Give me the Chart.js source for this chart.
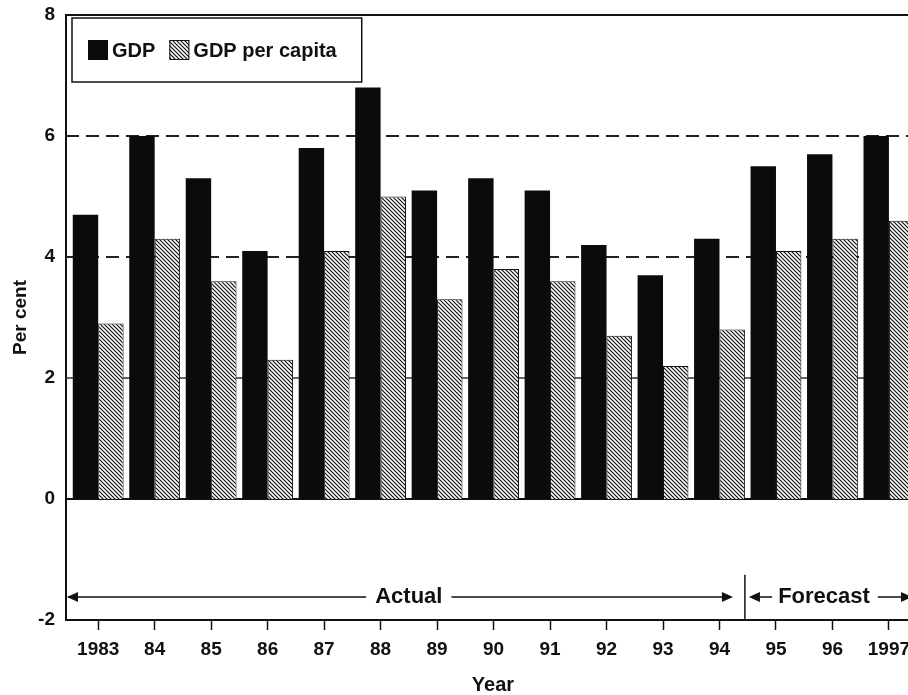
<!DOCTYPE html>
<html>
<head>
<meta charset="utf-8">
<script src="https://cdn.jsdelivr.net/npm/chart.js@4/dist/chart.umd.min.js"></script>
<style>
html,body{margin:0;padding:0;overflow:hidden;background:#fff;}
#wrap{width:940px;height:695px;position:relative;}
</style>
</head>
<body>
<div id="wrap"><canvas id="c"></canvas></div>
<script>
// ---- data ----
const years = ['1983','84','85','86','87','88','89','90','91','92','93','94','95','96','1997'];
const gdp = [4.7, 6.0, 5.3, 4.1, 5.8, 6.8, 5.1, 5.3, 5.1, 4.2, 3.7, 4.3, 5.5, 5.7, 6.0];
const gdpPerCapita = [2.9, 4.3, 3.6, 2.3, 4.1, 5.0, 3.3, 3.8, 3.6, 2.7, 2.2, 2.8, 4.1, 4.3, 4.6];
const seriesNames = ['GDP', 'GDP per capita'];
const yTicks = [-2, 0, 2, 4, 6, 8];
const periodLabels = ['Actual', 'Forecast'];
const lastActualIndex = 11;

// ---- styles ----
const FONT = "'Liberation Sans', Arial, Helvetica, sans-serif";
const INK = '#111';

function makeHatch() {
  const s = 4;
  const c = document.createElement('canvas');
  c.width = s; c.height = s;
  const g = c.getContext('2d');
  g.fillStyle = '#fff'; g.fillRect(0, 0, s, s);
  g.strokeStyle = '#111'; g.lineWidth = 1.2;
  for (const k of [-s, 0, s]) {
    g.beginPath(); g.moveTo(-1, -1 + k); g.lineTo(s + 1, s + 1 + k); g.stroke();
  }
  return g.createPattern(c, 'repeat');
}
const hatch = makeHatch();

const gridStyle = [
  {v: 8, dash: [], w: 2, c: INK},
  {v: 6, dash: [13, 7], w: 2, c: '#222'},
  {v: 4, dash: [13, 7], w: 2, c: '#222'},
  {v: 2, dash: [], w: 1.5, c: '#333'},
  {v: 0, dash: [], w: 2, c: INK}
];

const gridPlugin = {
  id: 'gridPlugin',
  beforeDatasetsDraw(chart) {
    const {ctx, chartArea: a, scales: {y}} = chart;
    ctx.save();
    for (const g of gridStyle) {
      const p = y.getPixelForValue(g.v);
      ctx.beginPath();
      ctx.setLineDash(g.dash);
      ctx.lineWidth = g.w;
      ctx.strokeStyle = g.c;
      ctx.moveTo(a.left, p); ctx.lineTo(a.right, p);
      ctx.stroke();
    }
    ctx.restore();
  }
};

function arrowHead(ctx, x, y, dir) {
  ctx.beginPath();
  ctx.moveTo(x, y);
  ctx.lineTo(x - dir * 11, y - 5);
  ctx.lineTo(x - dir * 11, y + 5);
  ctx.closePath();
  ctx.fill();
}

const periodPlugin = {
  id: 'periodPlugin',
  afterDatasetsDraw(chart) {
    const {ctx, chartArea: a, scales: {x, y}} = chart;
    ctx.save();
    ctx.strokeStyle = INK; ctx.fillStyle = INK; ctx.lineWidth = 1.5;
    const ay = y.getPixelForValue(-1.62);
    const sepX = x.getPixelForValue(lastActualIndex + 0.45);
    ctx.beginPath();
    ctx.moveTo(sepX, y.getPixelForValue(-1.25));
    ctx.lineTo(sepX, a.bottom);
    ctx.stroke();
    ctx.font = 'bold 22px ' + FONT;
    ctx.textAlign = 'center'; ctx.textBaseline = 'middle';
    const ax = x.getPixelForValue(lastActualIndex / 2);
    const aw = ctx.measureText(periodLabels[0]).width;
    ctx.fillText(periodLabels[0], ax, ay);
    ctx.beginPath();
    ctx.moveTo(a.left + 2, ay); ctx.lineTo(ax - aw / 2 - 9, ay);
    ctx.moveTo(ax + aw / 2 + 9, ay); ctx.lineTo(sepX - 14, ay);
    ctx.stroke();
    arrowHead(ctx, a.left + 1, ay, -1);
    arrowHead(ctx, sepX - 12, ay, 1);
    const fx = x.getPixelForValue(12.85);
    const fw = ctx.measureText(periodLabels[1]).width;
    ctx.fillText(periodLabels[1], fx, ay);
    ctx.beginPath();
    ctx.moveTo(sepX + 6, ay); ctx.lineTo(fx - fw / 2 - 6, ay);
    ctx.moveTo(fx + fw / 2 + 8, ay); ctx.lineTo(910, ay);
    ctx.stroke();
    arrowHead(ctx, sepX + 4, ay, -1);
    arrowHead(ctx, 912, ay, 1);
    ctx.restore();
  }
};

const legendPlugin = {
  id: 'legendPlugin',
  afterDraw(chart) {
    const {ctx, chartArea: a} = chart;
    ctx.save();
    const left = a.left + 6, top = a.top + 3;
    ctx.font = 'bold 20px ' + FONT;
    ctx.textBaseline = 'middle'; ctx.textAlign = 'left';
    const sq = 20, cy = top + 32;
    let cx = left + 16;
    const fills = ['#0b0b0b', hatch];
    seriesNames.forEach((name, i) => {
      ctx.fillStyle = fills[i];
      ctx.fillRect(cx, cy - sq / 2, sq, sq);
      if (i === 1) { ctx.strokeStyle = INK; ctx.lineWidth = 1; ctx.strokeRect(cx + 0.5, cy - sq / 2 + 0.5, sq - 1, sq - 1); }
      cx += sq + 4;
      ctx.fillStyle = INK;
      ctx.fillText(name, cx, cy + 1);
      cx += ctx.measureText(name).width + 14;
    });
    ctx.strokeStyle = INK; ctx.lineWidth = 1.5;
    ctx.strokeRect(left, top, cx - left + 11, 64);
    ctx.restore();
  }
};

new Chart(document.getElementById('c'), {
  type: 'bar',
  data: {
    datasets: [
      {label: seriesNames[0], data: gdp.map((v, i) => ({x: i, y: v})), backgroundColor: '#0b0b0b', borderWidth: 0},
      {label: seriesNames[1], data: gdpPerCapita.map((v, i) => ({x: i, y: v})), backgroundColor: hatch, borderColor: INK, borderWidth: 1}
    ]
  },
  options: {
    responsive: true,
    maintainAspectRatio: false,
    animation: false,
    layout: {padding: {top: 15, right: 20, bottom: 0, left: 0}},
    datasets: {bar: {categoryPercentage: 0.9, barPercentage: 1.0}},
    plugins: {legend: {display: false}, tooltip: {enabled: false}},
    scales: {
      x: {
        type: 'linear', min: -0.57, max: 14.55, offset: false,
        afterBuildTicks(s) { s.ticks = years.map((_, i) => ({value: i})); },
        afterFit(s) { s.height = 75; s.paddingLeft = 0; s.paddingRight = 0; },
        grid: {display: true, offset: false, drawOnChartArea: false, drawTicks: true, tickLength: 10, tickColor: INK, tickWidth: 1.5},
        border: {display: true, color: INK, width: 2},
        ticks: {
          callback: (v) => years[v] ?? '',
          font: {family: FONT, size: 19, weight: 'bold'}, color: INK, padding: 8,
          maxRotation: 0, autoSkip: false
        },
        title: {display: true, text: 'Year', color: INK, font: {family: FONT, size: 20, weight: 'bold', lineHeight: 1}, padding: {top: 0, bottom: 0}}
      },
      y: {
        min: -2, max: 8,
        afterBuildTicks(s) { s.ticks = yTicks.map(v => ({value: v})); },
        afterFit(s) { s.width = 66; s.paddingTop = 0; s.paddingBottom = 0; },
        grid: {display: false, drawTicks: false},
        border: {display: true, color: INK, width: 2},
        ticks: {font: {family: FONT, size: 19, weight: 'bold'}, color: INK, padding: 11},
        title: {display: true, text: 'Per cent', color: INK, font: {family: FONT, size: 19, weight: 'bold'}, padding: {top: 9, bottom: 0}}
      }
    }
  },
  plugins: [gridPlugin, periodPlugin, legendPlugin]
});
</script>
</body>
</html>
